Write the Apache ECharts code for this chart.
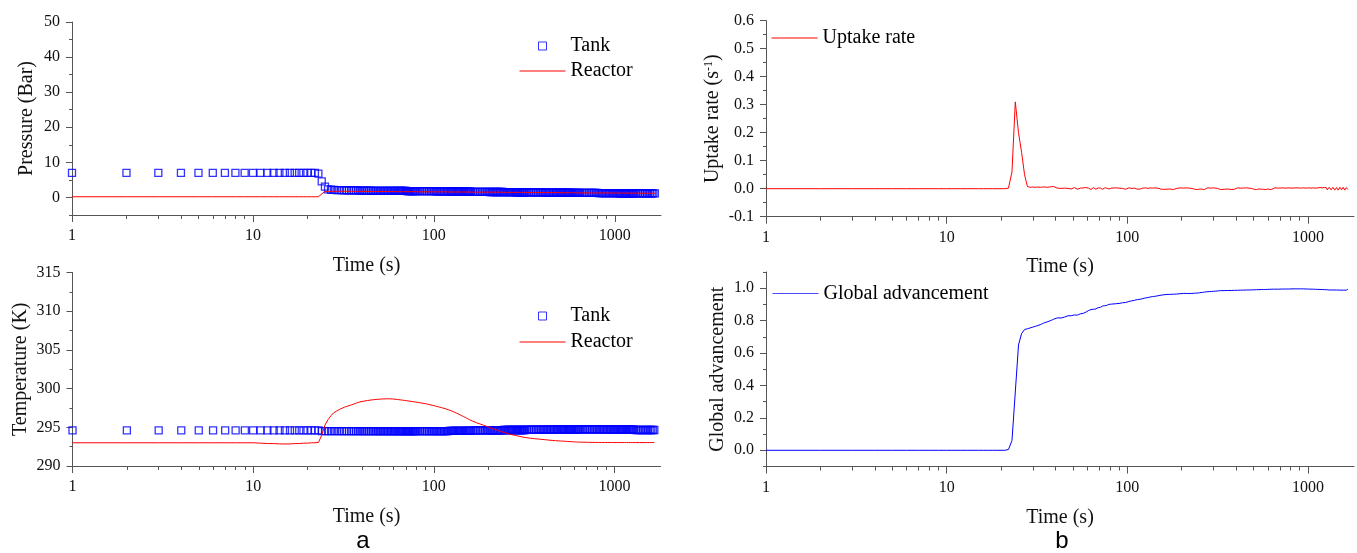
<!DOCTYPE html>
<html>
<head>
<meta charset="utf-8">
<title>Tank / reactor</title>
<script src="https://cdn.jsdelivr.net/npm/echarts@6/dist/echarts.min.js"></script>
<style>
  html, body { margin: 0; padding: 0; background: #fff; }
  #chart { width: 1357px; height: 553px; }
</style>
</head>
<body>
<div id="chart"></div>
<script>
// time (s), shared by every series
const time = [
  1,2,3,4,5,6,7,8,9,10, 11,12,13,14,15,16,17,18,19,20,
  21,22,23,24,25,26,27,28,29,30, 31,32,33,34,35,36,37,38,39,40,
  41,42,43,44,45,46,47,48,49,50, 51,52,53,54,55,56,57,58,59,60,
  61,62,63,64,65,66,67,68,69,70, 71,72,73,74,75,76,77,78,79,80,
  82,84,86,88,90,92,94,96,98,100, 102,104,106,108,110,112,114,116,118,120,
  122,124,126,128,130,132,134,136,138,140, 142,144,146,148,150,152,154,156,158,160,
  164,168,172,176,180,184,188,192,196,200, 204,208,212,216,220,224,228,232,236,240,
  244,248,252,256,260,264,268,272,276,280, 284,288,292,296,300,304,308,312,316,320,
  328,336,344,352,360,368,376,384,392,400, 408,416,424,432,440,448,456,464,472,480,
  488,496,504,512,520,528,536,544,552,560, 568,576,584,592,600,608,616,624,632,640,
  656,672,688,704,720,736,752,768,784,800, 816,832,848,864,880,896,912,928,944,960,
  976,992,1008,1024,1040,1056,1072,1088,1104,1120, 1136,1152,1168,1184,1200,1216,1232,1248,1264,1280,
  1312,1344,1376,1408,1440,1472,1504,1536,1568,1600,1632,1664
];

const tankPressure = [
  7.0,7.0,7.0,7.0,7.0,7.0,7.0,7.0,7.0,7.0, 7.0,7.0,7.0,7.0,7.0,7.0,7.0,7.0,7.0,7.0,
  7.0,7.0,6.8,4.6,3.1,2.3,2.2,2.15,2.1,2.1, 2.1,2.05,2.05,2.05,2.0,2.0,2.0,2.0,1.95,1.95,
  1.95,1.95,1.95,1.95,1.95,1.9,1.9,1.9,1.9,1.9, 1.9,1.9,1.9,1.9,1.9,1.85,1.85,1.85,1.85,1.85,
  1.85,1.85,1.85,1.85,1.85,1.85,1.85,1.85,1.85,1.85, 1.8,1.8,1.8,1.8,1.8,1.8,1.8,1.8,1.8,1.8,
  1.8,1.8,1.8,1.8,1.8,1.8,1.8,1.8,1.8,1.8, 1.75,1.75,1.75,1.75,1.75,1.75,1.75,1.75,1.75,1.75,
  1.7,1.7,1.7,1.7,1.7,1.7,1.7,1.7,1.7,1.7, 1.65,1.65,1.65,1.65,1.65,1.65,1.65,1.65,1.65,1.65,
  1.6,1.6,1.6,1.6,1.6,1.6,1.6,1.6,1.6,1.6, 1.55,1.55,1.55,1.55,1.55,1.55,1.55,1.55,1.55,1.55,
  1.5,1.5,1.5,1.5,1.5,1.5,1.5,1.5,1.5,1.5, 1.45,1.45,1.45,1.45,1.45,1.45,1.45,1.45,1.45,1.45,
  1.45,1.45,1.45,1.45,1.45,1.45,1.45,1.45,1.45,1.45, 1.4,1.4,1.4,1.4,1.4,1.4,1.4,1.4,1.4,1.4,
  1.35,1.35,1.35,1.35,1.35,1.35,1.35,1.35,1.35,1.35, 1.3,1.3,1.3,1.3,1.3,1.3,1.3,1.3,1.3,1.3,
  1.3,1.3,1.3,1.3,1.3,1.3,1.3,1.3,1.3,1.3, 1.25,1.25,1.25,1.25,1.25,1.25,1.25,1.25,1.25,1.25,
  1.25,1.25,1.25,1.25,1.25,1.2,1.2,1.2,1.2,1.2, 1.2,1.2,1.2,1.2,1.2,1.2,1.2,1.2,1.2,1.2,
  1.2,1.2,1.2,1.2,1.2,1.2,1.15,1.15,1.15,1.15,1.15,1.15
];

const reactorPressure = [
  0.2,0.2,0.2,0.2,0.2,0.2,0.2,0.2,0.2,0.2, 0.2,0.2,0.2,0.2,0.2,0.2,0.2,0.2,0.2,0.2,
  0.2,0.2,0.2,1.0,1.7,1.75,1.75,1.75,1.75,1.75, 1.75,1.75,1.75,1.75,1.75,1.75,1.75,1.75,1.75,1.75,
  1.7,1.7,1.7,1.7,1.7,1.7,1.7,1.7,1.7,1.7, 1.7,1.7,1.7,1.7,1.7,1.7,1.7,1.7,1.7,1.7,
  1.65,1.65,1.65,1.65,1.65,1.65,1.65,1.65,1.65,1.65, 1.65,1.65,1.65,1.65,1.65,1.65,1.65,1.65,1.65,1.65,
  1.6,1.6,1.6,1.6,1.6,1.6,1.6,1.6,1.6,1.6, 1.6,1.6,1.6,1.6,1.6,1.6,1.6,1.6,1.6,1.6,
  1.55,1.55,1.55,1.55,1.55,1.55,1.55,1.55,1.55,1.55, 1.55,1.55,1.55,1.55,1.55,1.55,1.55,1.55,1.55,1.55,
  1.5,1.5,1.5,1.5,1.5,1.5,1.5,1.5,1.5,1.5, 1.5,1.5,1.5,1.5,1.5,1.5,1.5,1.5,1.5,1.5,
  1.45,1.45,1.45,1.45,1.45,1.45,1.45,1.45,1.45,1.45, 1.45,1.45,1.45,1.45,1.45,1.45,1.45,1.45,1.45,1.45,
  1.4,1.4,1.4,1.4,1.4,1.4,1.4,1.4,1.4,1.4, 1.4,1.4,1.4,1.4,1.4,1.4,1.4,1.4,1.4,1.4,
  1.35,1.35,1.35,1.35,1.35,1.35,1.35,1.35,1.35,1.35, 1.35,1.35,1.35,1.35,1.35,1.35,1.35,1.35,1.35,1.35,
  1.3,1.3,1.3,1.3,1.3,1.3,1.3,1.3,1.3,1.3, 1.3,1.3,1.3,1.3,1.3,1.3,1.3,1.3,1.3,1.3,
  1.25,1.25,1.25,1.25,1.25,1.25,1.25,1.25,1.25,1.25, 1.25,1.25,1.25,1.25,1.25,1.25,1.25,1.25,1.25,1.25,
  1.2,1.2,1.2,1.2,1.2,1.2,1.2,1.2,1.2,1.2,1.2,1.2
];

const tankTemperature = [
  294.6,294.6,294.6,294.6,294.6,294.6,294.6,294.6,294.6,294.6, 294.6,294.6,294.6,294.6,294.6,294.6,294.6,294.6,294.6,294.6,
  294.6,294.6,294.6,294.5,294.5,294.5,294.5,294.5,294.5,294.5, 294.5,294.5,294.5,294.5,294.5,294.5,294.5,294.5,294.5,294.5,
  294.5,294.5,294.5,294.5,294.5,294.5,294.5,294.5,294.5,294.5, 294.5,294.5,294.5,294.5,294.5,294.5,294.5,294.5,294.5,294.5,
  294.5,294.5,294.5,294.5,294.5,294.5,294.5,294.5,294.5,294.5, 294.5,294.5,294.5,294.5,294.5,294.5,294.5,294.5,294.5,294.5,
  294.5,294.5,294.5,294.5,294.5,294.5,294.5,294.5,294.5,294.5, 294.5,294.5,294.5,294.5,294.5,294.5,294.5,294.5,294.5,294.5,
  294.55,294.55,294.55,294.55,294.55,294.55,294.55,294.55,294.55,294.55, 294.55,294.55,294.55,294.55,294.55,294.55,294.55,294.55,294.55,294.55,
  294.6,294.6,294.6,294.6,294.6,294.6,294.6,294.6,294.6,294.6, 294.6,294.6,294.6,294.6,294.6,294.6,294.6,294.6,294.6,294.6,
  294.65,294.65,294.65,294.65,294.65,294.65,294.65,294.65,294.65,294.65, 294.65,294.65,294.65,294.65,294.65,294.65,294.65,294.65,294.65,294.65,
  294.7,294.7,294.7,294.7,294.7,294.7,294.7,294.7,294.7,294.7, 294.7,294.7,294.7,294.7,294.7,294.7,294.7,294.7,294.7,294.7,
  294.75,294.75,294.75,294.75,294.75,294.75,294.75,294.75,294.75,294.75, 294.75,294.75,294.75,294.75,294.75,294.75,294.75,294.75,294.75,294.75,
  294.75,294.75,294.75,294.75,294.75,294.75,294.75,294.75,294.75,294.75, 294.75,294.75,294.75,294.75,294.75,294.75,294.75,294.75,294.75,294.75,
  294.7,294.7,294.7,294.7,294.7,294.7,294.7,294.7,294.7,294.7, 294.7,294.7,294.7,294.7,294.7,294.7,294.7,294.7,294.7,294.7,
  294.65,294.65,294.65,294.65,294.65,294.65,294.65,294.65,294.65,294.65,294.65,294.65
];

const reactorTemperature = [
  293.0,293.0,293.0,293.0,293.0,293.0,293.0,293.0,293.0,293.0, 292.95,292.9,292.9,292.85,292.85,292.85,292.9,292.9,292.95,292.95,
  293.0,293.0,293.05,294.0,295.3,296.0,296.5,296.9,297.1,297.3, 297.45,297.6,297.7,297.8,297.9,298.0,298.1,298.2,298.28,298.35,
  298.38,298.42,298.46,298.5,298.53,298.56,298.58,298.6,298.62,298.64, 298.65,298.66,298.67,298.68,298.68,298.68,298.68,298.67,298.66,298.65,
  298.63,298.61,298.59,298.57,298.55,298.53,298.51,298.49,298.47,298.45, 298.43,298.41,298.39,298.37,298.35,298.33,298.31,298.29,298.27,298.25,
  298.21,298.17,298.13,298.09,298.05,298.0,297.95,297.9,297.85,297.8, 297.75,297.7,297.65,297.6,297.55,297.5,297.45,297.4,297.34,297.28,
  297.22,297.16,297.1,297.03,296.96,296.89,296.82,296.75,296.68,296.6, 296.53,296.46,296.39,296.32,296.25,296.18,296.11,296.04,295.97,295.9,
  295.8,295.7,295.6,295.52,295.44,295.36,295.28,295.2,295.12,295.04, 294.97,294.9,294.83,294.76,294.7,294.64,294.58,294.52,294.46,294.4,
  294.35,294.3,294.25,294.2,294.15,294.11,294.07,294.03,294.0,293.97, 293.94,293.91,293.88,293.85,293.82,293.79,293.76,293.73,293.7,293.68,
  293.65,293.62,293.59,293.56,293.53,293.51,293.49,293.47,293.45,293.43, 293.41,293.39,293.37,293.35,293.33,293.32,293.3,293.29,293.27,293.26,
  293.25,293.24,293.23,293.22,293.21,293.2,293.19,293.18,293.17,293.16, 293.15,293.14,293.13,293.12,293.12,293.11,293.1,293.1,293.09,293.09,
  293.08,293.08,293.07,293.07,293.06,293.06,293.05,293.05,293.05,293.04, 293.04,293.04,293.04,293.04,293.04,293.04,293.04,293.04,293.04,293.04,
  293.03,293.03,293.03,293.03,293.03,293.03,293.03,293.03,293.03,293.03, 293.03,293.03,293.03,293.03,293.03,293.03,293.03,293.03,293.03,293.03,
  293.03,293.03,293.03,293.03,293.03,293.03,293.03,293.03,293.03,293.03,293.03,293.03
];

const uptakeRate = [
  0,0,0,0,0,0,0,0,0,0, 0,0,0,0,0,0,0,0,0,0,
  0,0.002,0.06,0.31,0.2,0.13,0.05,0.008,0.005,0.006, 0.005,0.006,0.005,0.006,0.006,0.005,0.006,0.007,0.008,0.006,
  0.002,-0.001,0.001,-0.002,0.002,0.004,0.001,0.003,-0.001,0.002, 0.004,0.001,-0.002,0.003,0.002,-0.001,0.003,0.001,0.004,-0.002,
  0.002,0.003,-0.003,0.001,0.004,0.002,-0.002,0.001,0.003,-0.001, 0.002,0.004,-0.002,0.001,0.003,-0.003,0.002,0.001,-0.001,0.003,
  0.002,-0.002,0.003,-0.001,0.002,-0.003,0.001,0.003,-0.002,0.002, 0.003,-0.002,0.001,-0.003,0.002,0.001,-0.002,0.003,-0.001,0.002,
  0.002,-0.003,0.003,-0.001,0.001,-0.002,0.003,-0.002,0.002,-0.001, 0.003,-0.002,0.002,-0.003,0.001,0.002,-0.002,0.003,-0.002,0.001,
  -0.002,0.003,-0.001,0.002,-0.003,0.002,0.001,-0.002,0.003,-0.002, 0.002,-0.001,0.003,-0.003,0.002,-0.002,0.001,0.003,-0.002,0.002,
  -0.003,0.002,-0.001,0.003,-0.002,0.002,-0.003,0.001,0.002,-0.002, 0.003,-0.002,0.002,-0.001,0.003,-0.003,0.002,-0.002,0.001,0.002,
  -0.003,0.002,-0.002,0.003,-0.001,0.002,-0.003,0.003,-0.002,0.001, 0.003,-0.002,0.002,-0.003,0.002,-0.001,0.003,-0.002,0.002,-0.003,
  0.001,0.003,-0.002,0.002,-0.003,0.002,-0.001,0.003,-0.002,0.002, -0.002,0.003,-0.003,0.002,-0.001,0.002,-0.003,0.003,-0.002,0.002,
  0.003,-0.003,0.002,-0.002,0.003,-0.002,0.002,-0.003,0.003,-0.002, 0.002,-0.003,0.003,-0.002,0.003,-0.003,0.002,-0.002,0.003,-0.003,
  0.002,-0.002,0.003,-0.003,0.002,-0.003,0.003,-0.002,0.002,-0.003, 0.003,-0.003,0.004,-0.003,0.003,-0.004,0.004,-0.003,0.004,-0.004,
  0.005,-0.004,0.005,-0.005,0.004,-0.005,0.005,-0.004,0.005,-0.005,0.004,-0.003
];

const advancement = [
  0,0,0,0,0,0,0,0,0,0, 0,0,0,0,0,0,0,0,0,0,
  0,0.005,0.06,0.36,0.65,0.72,0.745,0.75,0.755,0.76, 0.765,0.77,0.775,0.782,0.788,0.792,0.797,0.802,0.808,0.815,
  0.817,0.818,0.816,0.82,0.822,0.824,0.83,0.828,0.83,0.832, 0.835,0.836,0.834,0.838,0.842,0.84,0.845,0.848,0.852,0.856,
  0.862,0.866,0.868,0.866,0.87,0.868,0.872,0.876,0.88,0.878, 0.882,0.886,0.89,0.888,0.892,0.896,0.894,0.898,0.9,0.898,
  0.902,0.91,0.904,0.912,0.906,0.914,0.91,0.918,0.912,0.922, 0.918,0.928,0.922,0.932,0.926,0.936,0.93,0.94,0.932,0.942,
  0.936,0.946,0.94,0.95,0.942,0.952,0.946,0.954,0.948,0.958, 0.95,0.96,0.952,0.962,0.955,0.964,0.957,0.966,0.959,0.968,
  0.961,0.969,0.962,0.97,0.963,0.971,0.964,0.973,0.966,0.975, 0.968,0.977,0.968,0.976,0.967,0.975,0.968,0.976,0.969,0.977,
  0.97,0.979,0.972,0.981,0.974,0.983,0.976,0.984,0.978,0.986, 0.979,0.987,0.98,0.988,0.981,0.989,0.982,0.99,0.983,0.991,
  0.985,0.991,0.985,0.992,0.986,0.992,0.986,0.993,0.987,0.993, 0.987,0.994,0.988,0.994,0.988,0.995,0.989,0.995,0.989,0.996,
  0.99,0.996,0.99,0.997,0.991,0.997,0.991,0.998,0.992,0.998, 0.992,0.998,0.992,0.999,0.993,0.999,0.993,0.999,0.994,1.0,
  0.994,1.0,0.994,1.0,0.995,1.001,0.995,1.001,0.995,1.001, 0.996,1.002,0.996,1.002,0.996,1.002,0.996,1.002,0.996,1.001,
  0.995,1.001,0.995,1.0,0.994,1.0,0.994,0.999,0.993,0.999, 0.993,0.998,0.992,0.998,0.992,0.997,0.991,0.997,0.991,0.996,
  0.989,0.995,0.989,0.995,0.989,0.995,0.988,0.995,0.988,0.995,0.988,0.994
];

// axis ticks
const X_MAX = 1800;
const xMajorTicks = [1, 10, 100, 1000];
const xMinorTicks = [2,3,4,5,6,7,8,9, 20,30,40,50,60,70,80,90, 200,300,400,500,600,700,800,900];
const pressureTicks = [0, 10, 20, 30, 40, 50];
const temperatureTicks = [290, 295, 300, 305, 310, 315];
const uptakeTicks = [-0.1, 0, 0.1, 0.2, 0.3, 0.4, 0.5, 0.6];
const advancementTicks = [0, 0.2, 0.4, 0.6, 0.8, 1.0];

const SERIF = 'Liberation Serif';
const AXIS_COLOR = '#555';
const TEXT_COLOR = '#111';
const BLUE = '#0000ff';
const RED = '#ff0000';

const panels = [
  { grid: { left: 72, top: 22, width: 589, height: 193 }, yMin: -5, yMax: 50, yTicks: pressureTicks, yStep: 5,
    yName: 'Pressure (Bar)', yNameGap: 35, digits: 0, xNameGap: 41 },
  { grid: { left: 72.5, top: 272.5, width: 588, height: 193.5 }, yMin: 290, yMax: 315, yTicks: temperatureTicks, yStep: 2.5,
    yName: 'Temperature (K)', yNameGap: 42, digits: 0, xNameGap: 41 },
  { grid: { left: 766, top: 20.7, width: 588, height: 196 }, yMin: -0.1, yMax: 0.6, yTicks: uptakeTicks, yStep: 0.05,
    yName: 'Uptake rate (s{sup|-1})', yNameGap: 43, digits: 1, xNameGap: 40 },
  { grid: { left: 766, top: 272, width: 588, height: 194.5 }, yMin: -0.1, yMax: 1.1, yTicks: advancementTicks, yStep: 0.1,
    yName: 'Global advancement', yNameGap: 38, digits: 1, xNameGap: 41 }
];

const nameStyle = {
  fontFamily: SERIF, fontSize: 20, color: TEXT_COLOR,
  rich: { sup: { fontFamily: SERIF, fontSize: 12, color: TEXT_COLOR, verticalAlign: 'top', lineHeight: 12 } }
};
const labelStyle = { fontFamily: SERIF, fontSize: 16, color: TEXT_COLOR };

function pairs(xs, ys) {
  return xs.map((x, i) => [x, ys[i]]);
}

// linear helper axis used only to draw the log-axis tick marks
function xTickAxis(gridIndex, ticks, len) {
  return {
    type: 'value', gridIndex, position: 'bottom', min: 0, max: Math.log10(X_MAX),
    axisLine: { show: false, onZero: false },
    axisLabel: { show: false },
    splitLine: { show: false },
    axisTick: { show: true, length: len, customValues: ticks.map(Math.log10), lineStyle: { color: AXIS_COLOR } }
  };
}

const grids = [], xAxes = [], yAxes = [];
panels.forEach((p, i) => {
  grids.push(p.grid);
  xAxes.push({
    type: 'log', logBase: 10, gridIndex: i, position: 'bottom', min: 1, max: X_MAX,
    name: 'Time (s)', nameLocation: 'middle', nameGap: p.xNameGap, nameTextStyle: nameStyle,
    axisLine: { show: true, onZero: false, lineStyle: { color: AXIS_COLOR } },
    axisTick: { show: false },
    axisLabel: Object.assign({ margin: 13, showMaxLabel: false, formatter: v => String(Math.round(v)) }, labelStyle),
    splitLine: { show: false }
  });
  xAxes.push(xTickAxis(i, xMajorTicks, 7));
  xAxes.push(xTickAxis(i, xMinorTicks, 4));

  yAxes.push({
    type: 'value', gridIndex: i, position: 'left', min: p.yMin, max: p.yMax,
    name: p.yName, nameLocation: 'middle', nameGap: p.yNameGap, nameTextStyle: nameStyle,
    axisLine: { show: true, onZero: false, lineStyle: { color: AXIS_COLOR } },
    axisTick: { show: true, length: 6, customValues: p.yTicks, lineStyle: { color: AXIS_COLOR } },
    axisLabel: Object.assign({ margin: 12, customValues: p.yTicks, formatter: v => v.toFixed(p.digits) }, labelStyle),
    splitLine: { show: false }
  });
  yAxes.push({
    type: 'value', gridIndex: i, position: 'left', min: p.yMin, max: p.yMax, interval: p.yStep,
    axisLine: { show: false, onZero: false },
    axisLabel: { show: false },
    splitLine: { show: false },
    axisTick: { show: true, length: 3, lineStyle: { color: AXIS_COLOR } }
  });
});

const tankStyle = { color: 'rgba(0,0,0,0)', borderColor: BLUE, borderWidth: 1.3 };
const SQUARE_ICON = 'path://M0,0H8V8H0Z';
const LINE_ICON = 'path://M0,0H46V1H0Z';

function lineSeries(name, panel, ys, color) {
  return {
    name, type: 'line', xAxisIndex: panel * 3, yAxisIndex: panel * 2,
    data: pairs(time, ys), symbol: 'none', showSymbol: false,
    lineStyle: { color, width: 1 }, itemStyle: { color }, z: 3
  };
}
function tankSeries(panel, ys) {
  return {
    name: 'Tank', type: 'scatter', xAxisIndex: panel * 3, yAxisIndex: panel * 2,
    data: pairs(time, ys), symbol: 'rect', symbolSize: 7, itemStyle: tankStyle, z: 2
  };
}

const legendBase = {
  orient: 'vertical', padding: 0, itemWidth: 46, itemHeight: 8, symbolKeepAspect: true, selectedMode: false,
  textStyle: { fontFamily: SERIF, fontSize: 20, color: '#000', lineHeight: 20 }
};
const tankLegend = [
  { name: 'Tank', icon: SQUARE_ICON, itemStyle: { color: 'rgba(0,0,0,0)', borderColor: BLUE, borderWidth: 1 } },
  { name: 'Reactor', icon: LINE_ICON, itemStyle: { color: RED, borderWidth: 0 } }
];

const option = {
  animation: false,
  backgroundColor: '#fff',
  grid: grids,
  xAxis: xAxes,
  yAxis: yAxes,
  legend: [
    Object.assign({ left: 519.5, top: 36, itemGap: 5, data: tankLegend }, legendBase),
    Object.assign({ left: 519.5, top: 306, itemGap: 6, data: tankLegend }, legendBase),
    Object.assign({ left: 771.5, top: 28, data: [{ name: 'Uptake rate', icon: LINE_ICON, itemStyle: { color: RED, borderWidth: 0 } }] }, legendBase),
    Object.assign({ left: 772.5, top: 283.5, data: [{ name: 'Global advancement', icon: LINE_ICON, itemStyle: { color: '#4a4aff', borderColor: '#4a4aff', borderWidth: 0 } }] }, legendBase)
  ],
  graphic: [
    { type: 'text', x: 363, y: 541, style: { text: 'a', fill: '#000', font: '24px "Liberation Sans"', textAlign: 'center', textVerticalAlign: 'middle' } },
    { type: 'text', x: 1062, y: 541, style: { text: 'b', fill: '#000', font: '24px "Liberation Sans"', textAlign: 'center', textVerticalAlign: 'middle' } }
  ],
  series: [
    tankSeries(0, tankPressure),
    lineSeries('Reactor', 0, reactorPressure, RED),
    tankSeries(1, tankTemperature),
    lineSeries('Reactor', 1, reactorTemperature, RED),
    lineSeries('Uptake rate', 2, uptakeRate, RED),
    lineSeries('Global advancement', 3, advancement, BLUE)
  ]
};

const chart = echarts.init(document.getElementById('chart'), null, { renderer: 'canvas' });
chart.setOption(option);
window.addEventListener('resize', () => chart.resize());
</script>
</body>
</html>
